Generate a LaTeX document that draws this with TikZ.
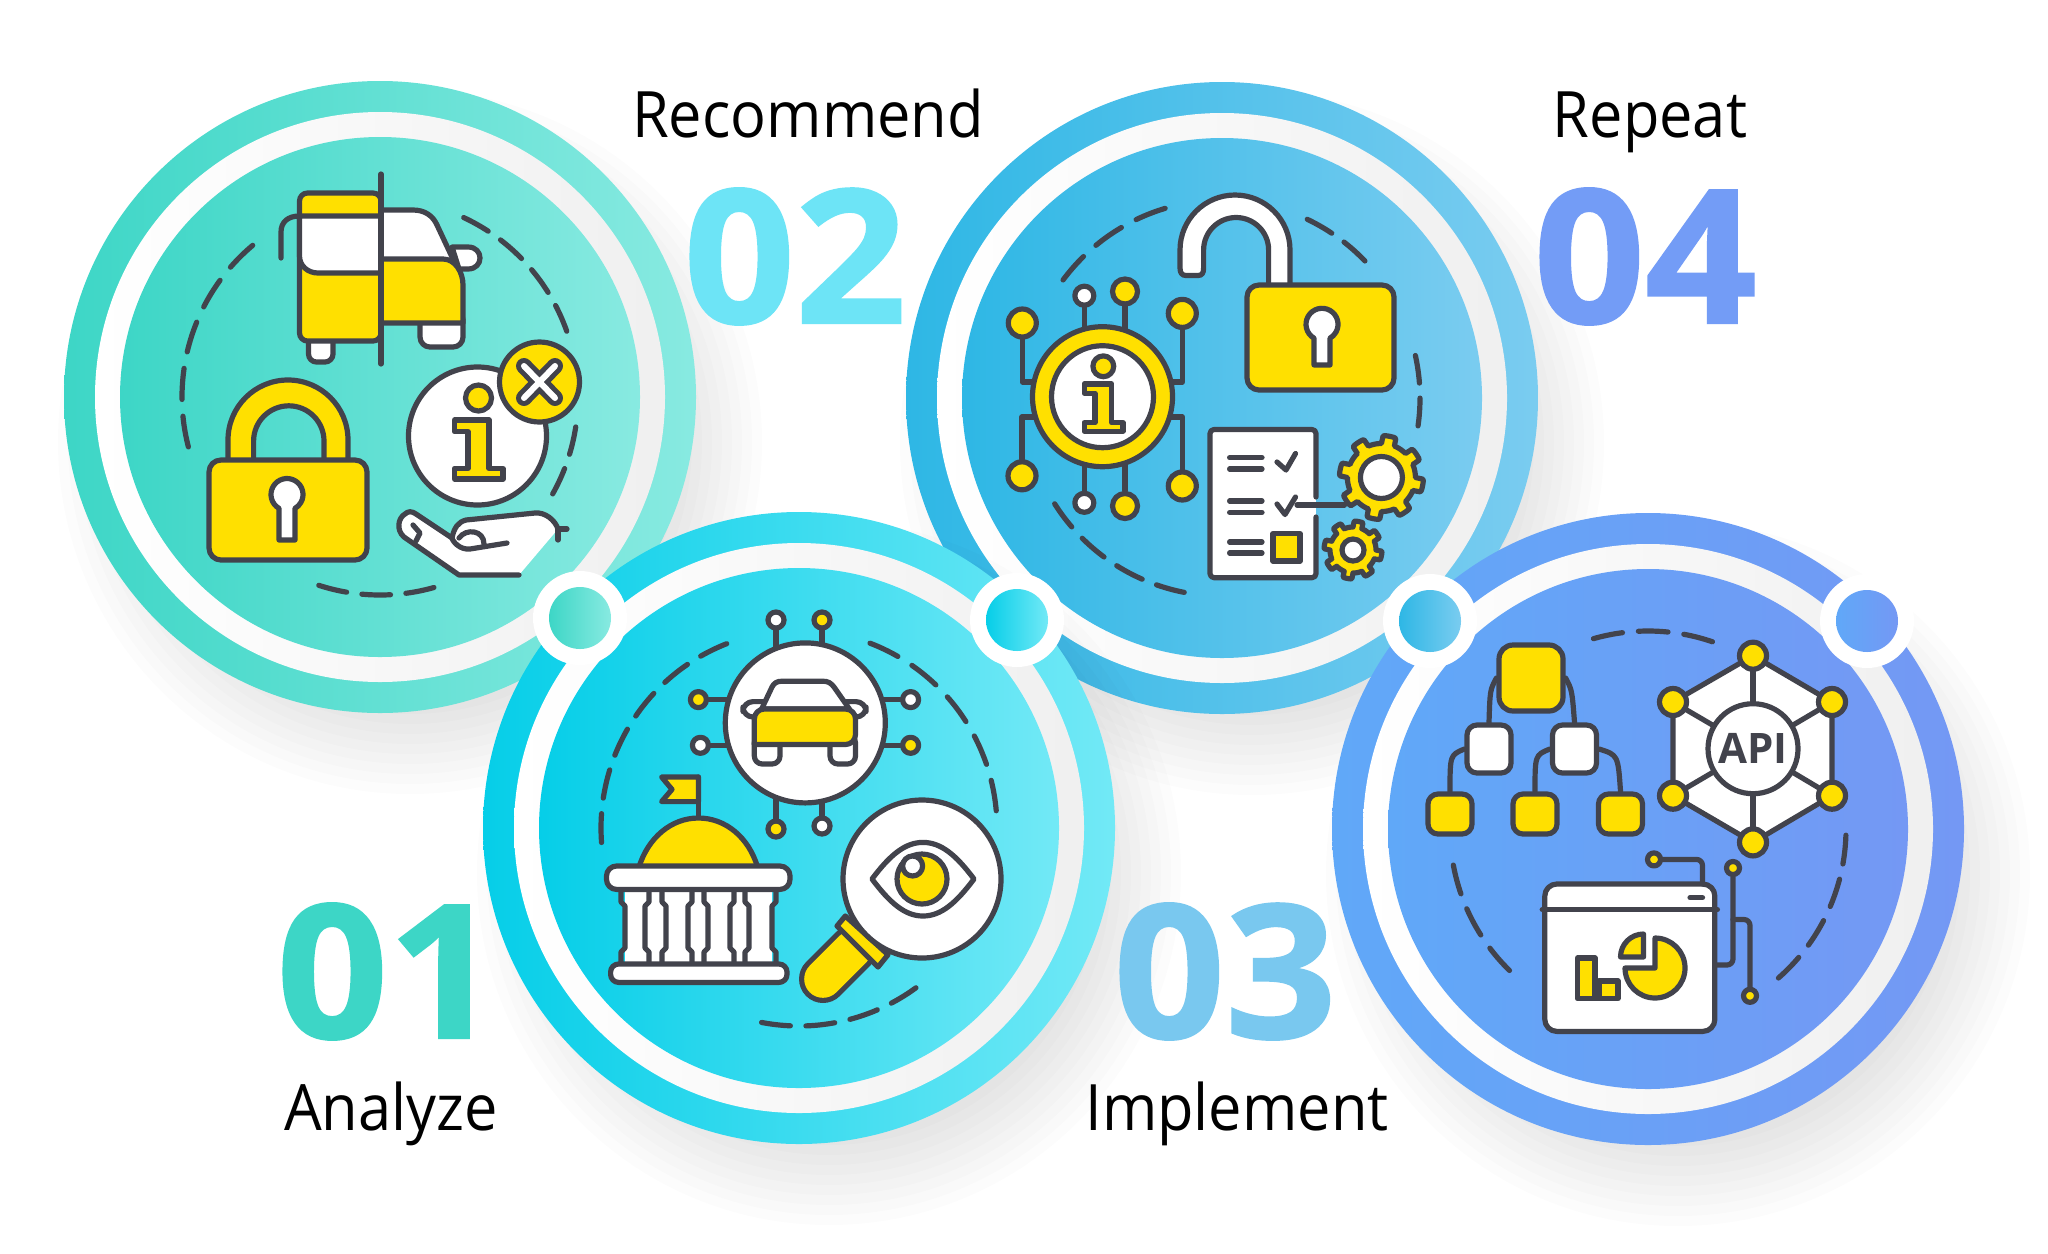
\documentclass[tikz,border=0pt]{standalone}
\usepackage{fontspec}
\setmainfont{Open Sans}
\newfontfamily\titlefont[FakeStretch=.93]{Open Sans}
\newfontfamily\numfont[FakeStretch=1.05,FakeBold=1.2]{Open Sans Bold}
\definecolor{inkcol}{HTML}{42434C}
\definecolor{iconyellow}{HTML}{FFE000}
\definecolor{tealA}{HTML}{3DD6C6}\definecolor{tealB}{HTML}{88EAE1}
\definecolor{skyA}{HTML}{2EB7E5}\definecolor{skyB}{HTML}{7ACCF0}
\definecolor{cyanA}{HTML}{06CEE8}\definecolor{cyanB}{HTML}{72E9F6}
\definecolor{blueA}{HTML}{60A8F8}\definecolor{blueB}{HTML}{7498F4}
\definecolor{numA}{HTML}{3DD6C6}\definecolor{numB}{HTML}{6DE4F6}
\definecolor{numC}{HTML}{79C8EF}\definecolor{numD}{HTML}{739CF6}
\tikzset{
  inkline/.style={draw=inkcol,line width=2.6pt,line join=round,line cap=round},
  iconY/.style={inkline,fill=iconyellow},
  iconW/.style={inkline,fill=white},
  pinW/.style={circle,iconW,inner sep=0pt,minimum size=8pt},
  pinY/.style={circle,iconY,inner sep=0pt,minimum size=8pt},
  pinBig/.style={circle,iconY,inner sep=0pt,minimum size=14pt},
  treeRoot/.style={iconY,rounded corners=7pt,inner sep=0pt,minimum width=32pt,minimum height=33pt},
  treeMid/.style={iconW,rounded corners=5pt,inner sep=0pt,minimum width=22pt,minimum height=24pt},
  treeLeaf/.style={iconY,rounded corners=5pt,inner sep=0pt,minimum width=22pt,minimum height=20pt},
  steptitle/.style={font=\titlefont\fontsize{32}{38}\selectfont,anchor=base,text=black},
  stepnum/.style={font=\numfont\fontsize{93}{100}\selectfont,anchor=base},
  discnode/.style={circle,inner sep=0pt,minimum size=#1}
}
\newcommand{\stepdisc}[5]{%
  \foreach \r in {262,272,...,352}{\fill[black,opacity=.011] (#2+30,#3+45) circle[radius=\r];}
  \node[discnode=316pt,left color=#4,right color=#5] (#1outer) at (#2,#3) {};
  \node[discnode=285pt,left color=white,right color=black!6] (#1ring) at (#2,#3) {};
  \node[discnode=260pt,left color=#4,right color=#5] (#1inner) at (#2,#3) {};
}
\newcommand{\stepdot}[5]{%
  \node[discnode=47pt,fill=white] (#1halo) at (#2,#3) {};
  \node[discnode=31pt,left color=#4,right color=#5] (#1core) at (#2,#3) {};
}
\newcommand{\ringdash}[5]{%
  \pgfmathsetmacro\dashstep{(#4-#3)/(#5-0.35)}
  \foreach \i in {1,...,#5}{
    \pgfmathsetmacro\dashbeg{#3+(\i-1)*\dashstep}
    \pgfmathsetmacro\dashend{\dashbeg+0.65*\dashstep}
    \draw[inkline] ([shift={(#1,#2)}]\dashbeg:198) arc[start angle=\dashbeg,end angle=\dashend,radius=198];
  }
}
\newcommand{\keyhole}[4]{%
  \draw[iconW] (#1-.5*#3,#4) -- ([shift={(#1,#2)}]120:#3) arc[start angle=120,end angle=420,radius=#3] -- (#1+.5*#3,#4) -- cycle;
}
\newcommand{\infomark}[3]{%
  \begin{scope}[shift={(#1,#2)},scale=#3]
    \draw[iconY] (1,-38) circle[radius=13];
    \draw[iconY] (-23,-16) -- (11.5,-16) -- (11.5,32.5) -- (25.5,32.5) -- (25.5,43) -- (-23,43)
      -- (-23,32.5) -- (-9.5,32.5) -- (-9.5,-4.4) -- (-23,-4.4) -- cycle;
  \end{scope}
}
\newcommand{\gearmark}[5]{%
  \draw[iconY] plot[domain=0:360,samples=161]
    ({#1+(#3+#4*max(min(3*sin(8*\x),1),0))*cos(\x)},{#2+(#3+#4*max(min(3*sin(8*\x),1),0))*sin(\x)}) -- cycle;
  \draw[iconW] (#1,#2) circle[radius=#5];
}
\begin{document}
\begin{tikzpicture}[x=0.5pt,y=-0.5pt]
    \useasboundingbox (0,0) rectangle (2048,1253);
    \fill[white] (0,0) rectangle (2048,1253);

    \stepdisc{one}{380}{397}{tealA}{tealB}
    \stepdisc{two}{1222}{398}{skyA}{skyB}
    \stepdisc{three}{799}{828}{cyanA}{cyanB}
    \stepdisc{four}{1648}{829}{blueA}{blueB}

    \stepdot{dotA}{580}{618}{tealA}{tealB}
    \stepdot{dotB}{1017}{620}{cyanA}{cyanB}
    \stepdot{dotC}{1430}{621}{skyA}{skyB}
    \stepdot{dotD}{1867}{621}{blueA}{blueB}

    \node[steptitle] (recommend) at (808,137) {Recommend};
    \node[steptitle] (repeat) at (1650,137) {Repeat};
    \node[steptitle] (analyze) at (391,1130) {Analyze};
    \node[steptitle] (implement) at (1237,1130) {Implement};
    \node[stepnum,text=numA] (numone) at (388,1038) {01};
    \node[stepnum,text=numB] (numtwo) at (795,323) {02};
    \node[stepnum,text=numC] (numthree) at (1225,1038) {03};
    \node[stepnum,text=numD] (numfour) at (1645,323) {04};

    \ringdash{380}{397}{-65}{-19.4}{4}
    \ringdash{380}{397}{8.7}{29.3}{2}
    \ringdash{380}{397}{74.2}{108}{3}
    \ringdash{380}{397}{165.4}{230}{5}
    \ringdash{1222}{398}{216.6}{253.3}{3}
    \ringdash{1222}{398}{-64.5}{-43.8}{2}
    \ringdash{1222}{398}{-12.4}{8.1}{2}
    \ringdash{1222}{398}{101}{147.7}{4}
    \ringdash{799}{828}{-69}{-5}{5}
    \ringdash{799}{828}{53.8}{100.9}{4}
    \ringdash{799}{828}{175.8}{248.6}{6}
    \ringdash{1648}{829}{-106}{-71}{3}
    \ringdash{1648}{829}{1.8}{48.8}{4}
    \ringdash{1648}{829}{134.4}{169.5}{3}

    \draw[iconW,rounded corners=4pt] (308.5,330) rectangle (333,362);
    \draw[iconY,rounded corners=4pt] (381,193) -- (299.5,193) -- (299.5,341) -- (381,341) -- cycle;
    \draw[iconW] (299.5,216) -- (381,216) -- (381,273) -- (318,273) .. controls (308,273) and (299.5,266) .. (299.5,256) -- cycle;
    \draw[inkline] (281,258) -- (281,232) .. controls (281,222) and (288,216) .. (299.5,216);
    \draw[iconW] (452,247) -- (468,247) .. controls (484,247) and (484,269) .. (468,269) -- (459,269) -- cycle;
    \draw[iconW] (381,210) -- (413,210) .. controls (425,210) and (433,216) .. (437,225) -- (459,272) -- (381,272) -- cycle;
    \draw[iconW,rounded corners=5pt] (420,310) rectangle (463,347);
    \draw[iconY] (381,259) -- (443,259) .. controls (455,259) and (463,272) .. (463,285) -- (463,323) -- (381,323) -- cycle;
    \draw[inkline] (381,174) -- (381,364);

    \draw[iconY] (228,470) -- (228,440) arc[start angle=180,end angle=360,radius=60] -- (348,470)
      -- (324,470) -- (324,441) arc[start angle=360,end angle=180,radius=35.2] -- (253.6,470) -- cycle;
    \draw[iconY,rounded corners=6pt] (209,460) rectangle (367,560);
    \keyhole{287}{494.5}{16}{540}

    \draw[iconW] (477.5,436) circle[radius=69];
    \infomark{477.5}{436}{1}
    \draw[iconY] (539.5,382) circle[radius=40];
    \draw[draw=inkcol,line width=8pt,line cap=round] (524,366) -- (555,398) (555,366) -- (524,398);
    \draw[draw=white,line width=3pt,line cap=round] (524,366) -- (555,398) (555,366) -- (524,398);

    \draw[iconW] (519,575) -- (459,575) -- (404,537) .. controls (396,530) and (398,518) .. (405,514)
      .. controls (408,511) and (412,511) .. (416,514) -- (452,538) .. controls (454,528) and (458,522) .. (466,520)
      -- (535,513) .. controls (545,512) and (555,520) .. (558,529);
    \draw[inkline] (507,543) -- (470,549) .. controls (460,550) and (453,542) .. (452,538);
    \draw[inkline] (459,538) .. controls (466,528) and (484,530) .. (484,544);
    \draw[inkline] (413,525) -- (420,533) -- (416,541);
    \draw[inkline] (567,529) -- (558,529) -- (558,540);

    \coordinate (infoC) at (1102.5,396.7);
    \coordinate (tapUL) at (1060,382);
    \coordinate (tapUR) at (1145,382);
    \coordinate (tapDL) at (1060,417);
    \coordinate (tapDR) at (1145,417);
    \node[pinBig] (chipA) at (1022.3,323) {};
    \node[pinBig] (chipB) at (1182.3,313.4) {};
    \node[pinBig] (chipC) at (1022,475.8) {};
    \node[pinBig] (chipD) at (1182.3,486) {};
    \node[pinW,minimum size=9.5pt] (chipE) at (1084.3,295.7) {};
    \node[pinBig,minimum size=12.5pt] (chipF) at (1125,291.5) {};
    \node[pinW,minimum size=9.5pt] (chipG) at (1084.3,502.8) {};
    \node[pinBig,minimum size=12.5pt] (chipH) at (1125,506) {};
    \draw[inkline] (chipA.south) |- (tapUL);
    \draw[inkline] (chipB.south) |- (tapUR);
    \draw[inkline] (chipC.north) |- (tapDL);
    \draw[inkline] (chipD.north) |- (tapDR);
    \draw[inkline] (chipE.south) -- (chipE |- infoC);
    \draw[inkline] (chipF.south) -- (chipF |- infoC);
    \draw[inkline] (chipG.north) -- (chipG |- infoC);
    \draw[inkline] (chipH.north) -- (chipH |- infoC);
    \node[discnode=70pt,iconY] (chipring) at (infoC) {};
    \node[discnode=51pt,iconW] (chipcore) at (infoC) {};
    \infomark{1102.5}{396.7}{.8}

    \draw[iconW] (1290,295) -- (1290,250) arc[start angle=0,end angle=-180,radius=55] -- (1180,268)
      .. controls (1180,273) and (1182,275.5) .. (1186,275.5) -- (1198,275.5) .. controls (1202,275.5) and (1203.6,273) .. (1203.6,268)
      -- (1203.6,250) arc[start angle=180,end angle=360,radius=32.5] -- (1268.6,295) -- cycle;
    \draw[iconY,rounded corners=6pt] (1247,285) rectangle (1394,390);
    \keyhole{1322}{324.3}{16}{365}

    \fill[white] (1210,429.5) rectangle (1316,577.7);
    \draw[inkline,rounded corners=2pt] (1316,497) -- (1316,429.5) -- (1210,429.5) -- (1210,577.7) -- (1316,577.7) -- (1316,517);
    \foreach \y in {457.7,469,501,512.4,542,553}{\draw[inkline] (1229.6,\y) -- (1262,\y);}
    \draw[inkline] (1277,462) -- (1286,470) -- (1295.5,453.5);
    \draw[inkline] (1277,504) -- (1285,514.5) -- (1295.5,497);
    \draw[inkline] (1297,505) -- (1344.5,505);
    \draw[iconY] (1273,533.5) rectangle (1300,561);
    \gearmark{1381.4}{477.5}{34}{8}{21}
    \gearmark{1353}{550}{23}{6}{11}

    \coordinate (hubC) at (805.3,722.9);
    \foreach \n/\x/\y/\s in {a/776/620/pinW,b/822/620/pinY}{
      \node[\s] (hub\n) at (\x,\y) {};
      \draw[inkline] (hub\n.south) -- (hub\n |- hubC);
    }
    \foreach \n/\x/\y/\s in {c/776/829/pinY,d/822/826/pinW}{
      \node[\s] (hub\n) at (\x,\y) {};
      \draw[inkline] (hub\n.north) -- (hub\n |- hubC);
    }
    \foreach \n/\x/\y/\s in {e/698.4/699.6/pinY,f/700.4/745.3/pinW}{
      \node[\s] (hub\n) at (\x,\y) {};
      \draw[inkline] (hub\n.east) -- (hub\n -| hubC);
    }
    \foreach \n/\x/\y/\s in {g/910.6/699.6/pinW,h/910.6/745.3/pinY}{
      \node[\s] (hub\n) at (\x,\y) {};
      \draw[inkline] (hub\n.west) -- (hub\n -| hubC);
    }
    \node[discnode=80pt,iconW] (carhub) at (hubC) {};
    \draw[iconW,rounded corners=5pt] (743,701.6) rectangle (866,717);
    \draw[iconW] (761.6,709) -- (772,687) .. controls (774,683) and (777,681.2) .. (782,681.2) -- (823,681.2)
      .. controls (828,681.2) and (831,683) .. (834,687) -- (849.4,709) -- cycle;
    \draw[iconW,rounded corners=4pt] (754.3,735) rectangle (780,764);
    \draw[iconW,rounded corners=4pt] (830,735) rectangle (855.5,764);
    \draw[iconY,rounded corners=5pt] (754.3,744.5) -- (754.3,709) -- (855.5,709) -- (855.5,744.5) [sharp corners] -- cycle;

    \draw[inkline] (698.4,777) -- (698.4,818);
    \draw[iconY] (661.6,777) -- (698.4,777) -- (698.4,801.6) -- (661.6,801.6) -- (672,789.4) -- cycle;
    \draw[iconY] (639,867) .. controls (648,838) and (671,818) .. (698.4,818) .. controls (726,818) and (749,838) .. (757.5,867) -- cycle;
    \fill[white] (625,889.4) rectangle (772,964);
    \foreach \x/\s in {625/-1,645/1,666/-1,688/1,708/-1,730/1,749/-1,772/1}{
      \draw[inkline] (\x+\s*4,889.4) -- (\x+\s*4,902) -- (\x,906) -- (\x,948) -- (\x+\s*4,952) -- (\x+\s*4,964);
    }
    \draw[iconW,rounded corners=5pt] (606.5,866) rectangle (790,889.4);
    \draw[iconW,rounded corners=4pt] (610.6,964) rectangle (787,982.4);

    \draw[draw=inkcol,line width=24pt,line cap=round] (853,949) -- (823,979);
    \draw[draw=iconyellow,line width=18.8pt,line cap=round] (853,949) -- (823,979);
    \draw[iconY] (845.3,916) -- (888,954.7) -- (878,967) -- (837,926) -- cycle;
    \draw[iconW] (922,879) circle[radius=79];
    \draw[iconW] (872,879) .. controls (890,855) and (905,842.4) .. (923,842.4) .. controls (941,842.4) and (956,855) .. (974,879)
      .. controls (956,903) and (941,916) .. (923,916) .. controls (905,916) and (890,903) .. (872,879) -- cycle;
    \draw[iconY] (922,879) circle[radius=25];
    \draw[iconW] (912.6,866) circle[radius=10];

    \node[treeRoot] (root) at (1531,678) {};
    \node[treeMid] (midL) at (1489,749) {};
    \node[treeMid] (midR) at (1574.5,749) {};
    \node[treeLeaf] (leafA) at (1450,814) {};
    \node[treeLeaf] (leafB) at (1535,814) {};
    \node[treeLeaf] (leafC) at (1620.5,814) {};
    \draw[inkline] (root.west) .. controls (1490,690) .. (midL.north);
    \draw[inkline] (root.east) .. controls (1572,690) .. (midR.north);
    \draw[inkline] (midL.west) .. controls (1450,755) .. (leafA.north);
    \draw[inkline] (midR.west) .. controls (1535,755) .. (leafB.north);
    \draw[inkline] (midR.east) .. controls (1618,755) .. (leafC.north);

    \coordinate (hexA) at (1753,655.7);
    \coordinate (hexB) at (1832,702);
    \coordinate (hexC) at (1832,795.7);
    \coordinate (hexD) at (1753,842.4);
    \coordinate (hexE) at (1673,795.7);
    \coordinate (hexF) at (1673,702);
    \coordinate (hexO) at (1753,748.7);
    \draw[iconW] (hexA) -- (hexB) -- (hexC) -- (hexD) -- (hexE) -- (hexF) -- cycle;
    \foreach \n in {A,B,C,D,E,F}{\draw[inkline] (hexO) -- (hex\n);}
    \foreach \n in {A,B,C,D,E,F}{\node[pinBig,minimum size=13.5pt] (api\n) at (hex\n) {};}
    \node[discnode=45pt,iconW,font=\bfseries\fontsize{21}{24}\selectfont,text=inkcol] (apihub) at (hexO) {API};

    \node[iconW,rounded corners=6pt,inner sep=0pt,minimum width=85pt,minimum height=73.7pt] (winbox) at (1629.8,957.7) {};
    \draw[inkline] (winbox.west |- 0,909.6) -- (winbox.east |- 0,909.6);
    \draw[inkline] (1690,897.7) -- (1702.5,897.7);
    \coordinate (winTop) at (1702.5,884);
    \coordinate (winSide) at (1715,965);
    \coordinate (branchA) at (1733,919.5);
    \node[pinY,minimum size=6.5pt] (pinM) at (1654,859.4) {};
    \node[pinY,minimum size=6.5pt] (pinN) at (1733,868) {};
    \node[pinY,minimum size=6.5pt] (pinO) at (1750,995.8) {};
    \draw[inkline,rounded corners=3pt] (pinM.east) -| (winTop);
    \draw[inkline,rounded corners=3pt] (pinN.south) |- (winSide);
    \draw[inkline,rounded corners=3pt] (branchA) -| (pinO.north);
    \draw[iconY] (1577.5,958) rectangle (1595,998.6);
    \draw[iconY] (1599,981) rectangle (1618,998.6);
    \draw[inkline] (1595,998.6) -- (1599,998.6);
    \draw[iconY] (1655,968) -- (1655,938) arc[start angle=-90,end angle=180,radius=30] -- cycle;
    \draw[iconY] (1643.5,957) -- (1643.5,934) arc[start angle=-90,end angle=-180,radius=23] -- cycle;
\end{tikzpicture}
\end{document}
